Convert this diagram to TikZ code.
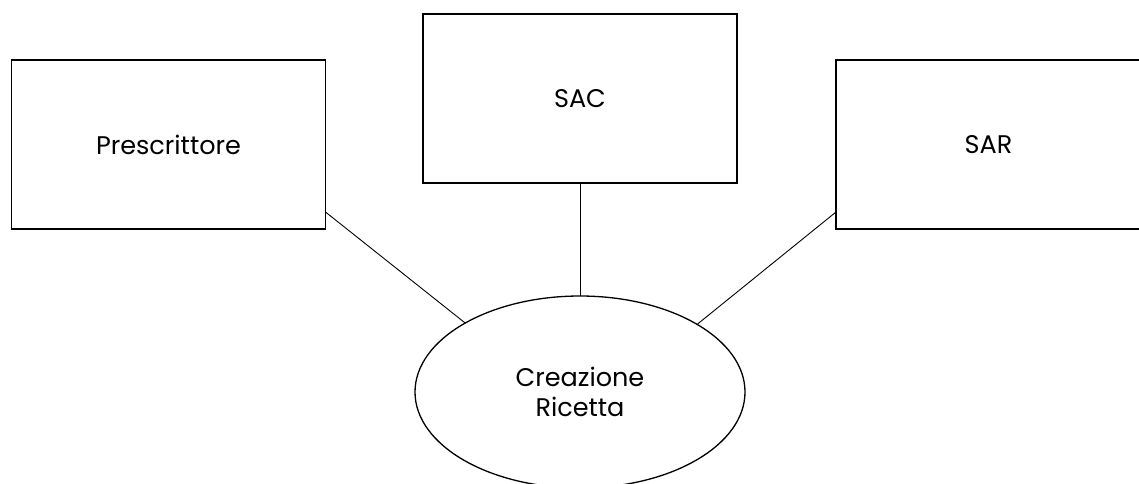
\documentclass[tikz,border=0pt]{standalone}
\usepackage{fontspec}
\setmainfont{Poppins}
\usetikzlibrary{shapes.geometric,calc}
\tikzset{
  box/.style={draw, line width=1.3pt, rectangle, minimum height=169pt, inner sep=0pt, outer sep=0pt, font=\fontsize{25.5}{30}\selectfont},
  usecase/.style={draw, line width=1.3pt, ellipse, minimum width=330pt, minimum height=192pt, inner sep=0pt, outer sep=0pt, align=center, font=\fontsize{25.5}{30}\selectfont},
  link/.style={line width=0.9pt}
}
\begin{document}
\begin{tikzpicture}[x=1pt,y=-1pt]
\useasboundingbox (0,0) rectangle (1139,483);
\clip (0,0) rectangle (1139,483);
\fill[white] (0,0) rectangle (1139,483);
\node[box, minimum width=314pt] (pre) at (168.5,144.5) {Prescrittore};
\node[box, minimum width=314pt] (sac) at (580,98.5) {SAC};
\node[box, minimum width=305pt] (sar) at (988.5,144.5) {SAR};
\node[usecase] (cr) at (580,392) {Creazione\\Ricetta};
\draw[link] ($(pre.south east)+(0,-17)$) -- (cr.149.5);
\draw[link] (sac.south) -- (cr.north);
\draw[link] ($(sar.south west)+(0,-17)$) -- (cr.30.5);
\end{tikzpicture}
\end{document}
